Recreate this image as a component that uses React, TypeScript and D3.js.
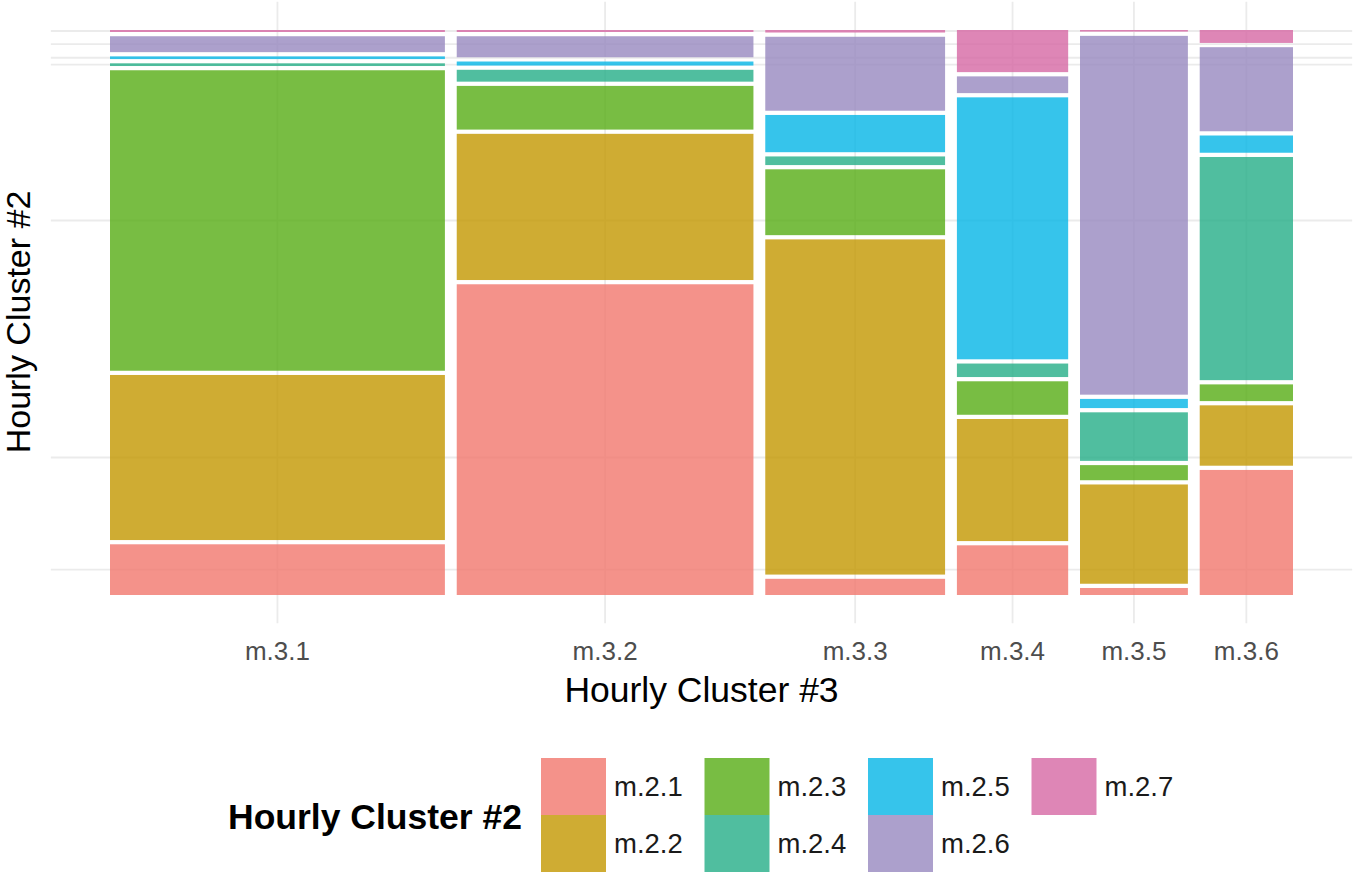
import * as d3 from 'd3';

// Hourly Cluster #3 columns and their share of all observations (%)
const clusters3 = ['m.3.1', 'm.3.2', 'm.3.3', 'm.3.4', 'm.3.5', 'm.3.6'];
const colShare = [29.8, 26.4, 16.0, 9.9, 9.6, 8.3];

// Hourly Cluster #2 levels, share within each m.3.x column (%)
const clusters2 = ['m.2.1', 'm.2.2', 'm.2.3', 'm.2.4', 'm.2.5', 'm.2.6', 'm.2.7'];
const m21 = [9.4, 57.6, 3.0, 9.2, 1.3, 23.2];
const m22 = [30.6, 27.1, 62.1, 22.6, 18.4, 11.2];
const m23 = [55.7, 8.1, 12.2, 6.2, 2.8, 3.1];
const m24 = [0.5, 2.2, 1.6, 2.5, 9.0, 41.4];
const m25 = [0.5, 0.75, 6.9, 48.5, 1.7, 3.2];
const m26 = [2.95, 3.9, 13.7, 3.1, 66.5, 15.6];
const m27 = [0.37, 0.37, 0.47, 7.8, 0.3, 2.4];
const series = [m21, m22, m23, m24, m25, m26, m27];

const colors = ['#F1776D', '#C39700', '#56AD14', '#24AE87', '#04B5E6', '#9788BF', '#D668A4'];

const W = 1355;
const H = 875;
const FONT = '"Liberation Sans", Arial, Helvetica, sans-serif';
const X_GAP = 0.01;
const Y_GAP = 0.0075;

interface Tile {
  key: string;
  col: number;
  row: number;
  x0: number;
  x1: number;
  y0: number;
  y1: number;
}

function buildTiles(): { tiles: Tile[]; mids: number[] } {
  const tiles: Tile[] = [];
  const mids: number[] = [];
  const totalShare = d3.sum(colShare);
  const xContent = 1 - X_GAP * (clusters3.length - 1);
  let x = 0;
  clusters3.forEach((c, ci) => {
    const w = (colShare[ci] / totalShare) * xContent;
    const colTotal = d3.sum(series, (s) => s[ci]);
    const yContent = 1 - Y_GAP * (clusters2.length - 1);
    let y = 0;
    clusters2.forEach((r, ri) => {
      const h = (series[ri][ci] / colTotal) * yContent;
      tiles.push({ key: `${c}-${r}`, col: ci, row: ri, x0: x, x1: x + w, y0: y, y1: y + h });
      y += h + Y_GAP;
    });
    mids.push(x + w / 2);
    x += w + X_GAP;
  });
  return { tiles, mids };
}

function Mosaic(): React.JSX.Element {
  const { tiles, mids } = buildTiles();

  const xScale = d3.scaleLinear().domain([-0.05, 1.05]).range([50.85, 1352.15]);
  const yScale = d3.scaleLinear().domain([-0.05, 1.05]).range([623.25, 1.75]);

  // horizontal breaks sit at the middle of each segment of the first column
  const yBreaks = tiles.filter((t) => t.col === 0).map((t) => (t.y0 + t.y1) / 2);

  const gridColor = '#EBEBEB';
  const legendX0 = 541;
  const legendColStep = 163.5;
  const keyW = 65;
  const keyH = 57;
  const legendY0 = 758;

  return (
    <svg width={W} height={H} style={{ position: 'absolute', left: 0, top: 0, background: '#fff' }} fontFamily={FONT}>
      <rect x={0} y={0} width={W} height={H} fill="#fff" />
      {/* grid */}
      <g stroke={gridColor} strokeWidth={1.8}>
        {mids.map((m, i) => (
          <line key={`vx${i}`} x1={xScale(m)} x2={xScale(m)} y1={yScale(1.05)} y2={yScale(-0.05)} />
        ))}
        {yBreaks.map((b, i) => (
          <line key={`hy${i}`} x1={xScale(-0.05)} x2={xScale(1.05)} y1={yScale(b)} y2={yScale(b)} />
        ))}
      </g>
      {/* tiles */}
      <g>
        {tiles.map((t) => (
          <rect
            key={t.key}
            x={xScale(t.x0)}
            y={yScale(t.y1)}
            width={xScale(t.x1) - xScale(t.x0)}
            height={Math.max(0, yScale(t.y0) - yScale(t.y1))}
            fill={colors[t.row]}
            fillOpacity={0.8}
          />
        ))}
      </g>
      {/* x tick labels */}
      <g fill="#4D4D4D" fontSize={26} textAnchor="middle">
        {mids.map((m, i) => (
          <text key={`xl${i}`} x={xScale(m)} y={660}>
            {clusters3[i]}
          </text>
        ))}
      </g>
      <text x={(xScale(-0.05) + xScale(1.05)) / 2} y={702} fontSize={35.5} textAnchor="middle" fill="#000">
        Hourly Cluster #3
      </text>
      <text transform="translate(30,322) rotate(-90)" fontSize={34} textAnchor="middle" fill="#000">
        Hourly Cluster #2
      </text>
      {/* legend */}
      <text x={228} y={829} fontSize={35.5} fontWeight="bold" fill="#000">
        Hourly Cluster #2
      </text>
      {clusters2.map((c, i) => {
        const col = Math.floor(i / 2);
        const row = i % 2;
        const kx = legendX0 + col * legendColStep;
        const ky = legendY0 + row * keyH;
        return (
          <g key={c}>
            <rect x={kx} y={ky} width={keyW} height={keyH} fill={colors[i]} fillOpacity={0.8} />
            <text x={kx + keyW + 8} y={ky + keyH / 2 + 9.5} fontSize={27.5} fill="#1A1A1A">
              {c}
            </text>
          </g>
        );
      })}
    </svg>
  );
}

export default function App(): React.JSX.Element {
  return <Mosaic />;
}
